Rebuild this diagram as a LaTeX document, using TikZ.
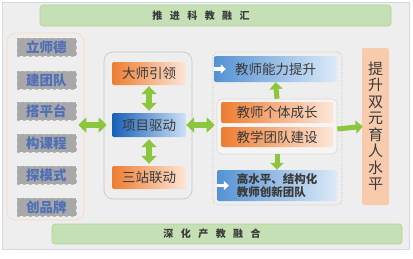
\documentclass[tikz,border=0pt]{standalone}
\usepackage{fontspec}
\newfontfamily\cjk{Noto Sans CJK SC}
\usetikzlibrary{arrows.meta,positioning}
\definecolor{bg}{HTML}{EEEEEE}
\definecolor{bgline}{HTML}{D3DAE3}
\definecolor{bandgreen}{HTML}{C5E0B4}
\definecolor{bandline}{HTML}{AFD395}
\definecolor{arrowgreen}{HTML}{8CC63F}
\definecolor{darkorange}{HTML}{ED7D31}
\definecolor{paleorange}{HTML}{FCE6D8}
\definecolor{darkblue}{HTML}{1560B8}
\definecolor{midblue}{HTML}{5592D3}
\definecolor{paleblue}{HTML}{DCEAF8}
\definecolor{peach}{HTML}{F8CBAD}
\definecolor{itemgray}{HTML}{A8A8A8}
\definecolor{itemblue}{HTML}{4F6FB6}
\definecolor{ink}{HTML}{3A3A3A}
\newcommand{\gap}{\hspace{7.5pt}}
\tikzset{
  band/.style={draw=bandline,fill=bandgreen,rounded corners=3pt,line width=0.6pt},
  bandtext/.style={text=ink,font=\cjk\fontsize{10}{12}\selectfont\bfseries},
  item/.style={fill=itemgray,draw=gray!55,dashed,line width=0.5pt,minimum width=59pt,minimum height=18pt,
    inner sep=0pt,text=itemblue,font=\cjk\fontsize{13.5}{15}\selectfont\bfseries},
  obox/.style={left color=darkorange,right color=paleorange,rounded corners=2pt,inner sep=0pt,
    text=ink,font=\cjk\fontsize{13.5}{15}\selectfont},
  bbox/.style={left color=midblue,right color=paleblue,rounded corners=2pt,inner sep=0pt,
    text=ink,font=\cjk\fontsize{13.5}{15}\selectfont},
  garrow/.style={draw=arrowgreen,line width=6pt,{Triangle[length=8pt,width=15pt]}-{Triangle[length=8pt,width=15pt]}},
  gup/.style={draw=arrowgreen,line width=5pt,-{Triangle[length=7pt,width=13pt]}},
  warrow/.style={draw=white,line width=3.5pt,-{Triangle[length=5pt,width=9pt]}}
}

\begin{document}
\begin{tikzpicture}[x=1pt,y=-1pt]
  \useasboundingbox (0,0) rectangle (413,258);
  \draw[fill=bg,draw=bgline,line width=0.6pt] (2,2) rectangle (409,249);
  % bands
  \node[band,minimum width=351pt,minimum height=21pt] (top) at (215.5,15.5) {};
  \node[bandtext] (toptext) at (201,15.5) {推\gap 进\gap 科\gap 教\gap 融\gap 汇};
  \node[band,minimum width=350pt,minimum height=20pt] (bot) at (227,234) {};
  \node[bandtext] (bottext) at (212,234) {深\gap 化\gap 产\gap 教\gap 融\gap 合};
  % panels
  \node[draw=peach!80,rounded corners=9pt,line width=0.6pt,minimum width=77pt,minimum height=187pt] (lp) at (45.5,126.5) {};
  \node[draw=gray!45,rounded corners=9pt,line width=0.6pt,minimum width=88pt,minimum height=147pt] (mp) at (148,125.5) {};
  \node[draw=gray!50,densely dotted,rounded corners=5pt,line width=0.6pt,minimum width=129pt,minimum height=153pt] (rp) at (277.5,128.5) {};
  % left items
  \foreach \name/\y/\txt in {de/47/立师德,td/80/建团队,pt/111/搭平台,kc/143/构课程,ms/175/探模式,pp/207/创品牌}
    \node[item] (\name) at (46.5,\y) {\txt};
  % middle boxes
  \node[obox,minimum width=74pt,minimum height=23pt] (dashi) at (149,73.5) {大师引领};
  \node[bbox,left color=darkblue,right color=paleblue!90!midblue,minimum width=74pt,minimum height=24pt] (xmqd) at (149,125) {项目驱动};
  \node[obox,minimum width=74pt,minimum height=23pt] (szld) at (149,177.5) {三站联动};
  \draw[garrow,shorten <=1pt,shorten >=2pt] (dashi.south) -- (xmqd.north);
  \draw[garrow,shorten <=2pt,shorten >=2pt] (xmqd.south) -- (szld.north);
  % right boxes
  \node[bbox,minimum width=123pt,minimum height=26pt] (nltx) at (275.5,69) {教师能力提升};
  \node[draw=gray!30,fill=white!40!bg,rounded corners=5pt,line width=0.6pt,minimum width=120pt,minimum height=55pt] (sp) at (277,126.5) {};
  \node[obox,minimum width=112pt,minimum height=21pt] (gtcz) at (277,112.5) {教师个体成长};
  \node[obox,minimum width=112pt,minimum height=20pt] (tdjs) at (277,137) {教学团队建设};
  \node[bbox,minimum width=120pt,minimum height=31pt,align=left,font=\cjk\fontsize{11.5}{13}\selectfont\bfseries] (cxtd) at (277,185.5) {高水平、结构化\\教师创新团队};
  \draw[warrow] (nltx.west) -- ++(12,0);
  \draw[warrow] (cxtd.west) -- ++(12,0);
  \draw[gup] (sp.north) -- (nltx.south);
  \draw[gup] (sp.south) -- (cxtd.north);
  % goal
  \node[fill=peach,rounded corners=2pt,minimum width=27pt,minimum height=157pt,inner sep=0pt,align=center,
    text=ink,font=\cjk\fontsize{15}{16.5}\selectfont] (goal) at (375.5,126.5) {提\\升\\双\\元\\育\\人\\水\\平};
  % connectors
  \draw[garrow,shorten <=-6pt,shorten >=-3pt] (lp.east |- xmqd) -- (mp.west |- xmqd);
  \draw[garrow,shorten >=-2pt] (xmqd.east) -- (rp.west |- xmqd);
  \draw[gup,shorten <=-5pt,shorten >=-1pt] (rp.east) -- (goal.west);
\end{tikzpicture}
\end{document}
